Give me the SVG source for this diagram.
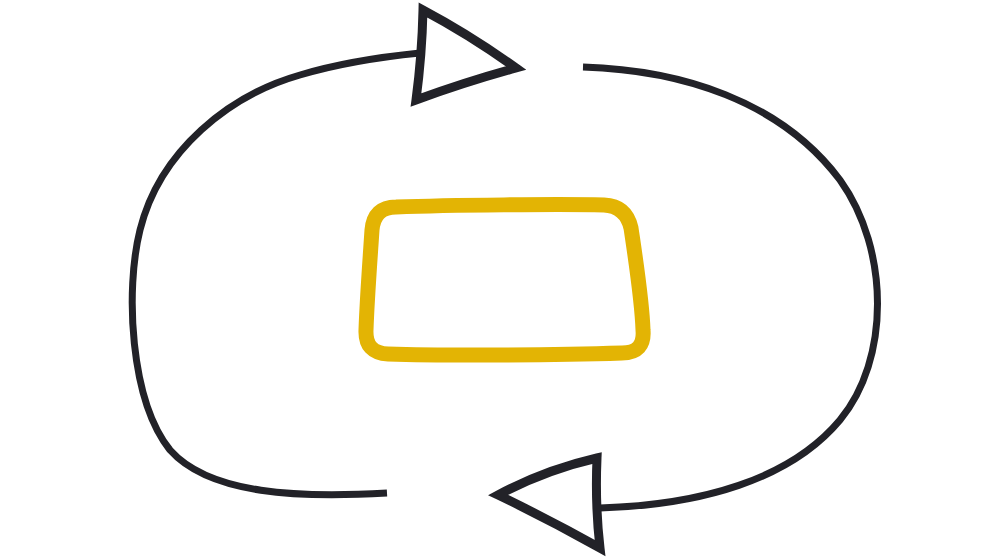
<svg xmlns="http://www.w3.org/2000/svg" width="989" height="560" viewBox="0 0 989 560">
<style>
.ln{fill:none;stroke:#222228;stroke-width:7;stroke-linecap:butt}
.hd{fill:#ffffff;stroke:#222228;stroke-width:9;stroke-linejoin:miter}
.box{fill:none;stroke:#E3B404;stroke-width:15;stroke-linejoin:round}
</style>
<rect width="989" height="560" fill="#ffffff"/>
<g id="connectors">
<path class="ln" d="M 387,493 C 300,498 210,495 170,450 C 130,400 125,290 140,230 C 160,150 230,95 300,75 C 340,63 380,57 420,53"/>
<path class="ln" d="M 583,67 C 680,70 780,100 840,180 C 890,250 890,360 840,420 C 790,480 700,505 600,508"/>
<path class="hd" d="M 423,10 Q 470,35 516,68 Q 465,82 416,100 Q 422,55 423,10 Z"/>
<path class="hd" d="M 498,495 Q 545,470 597,458 Q 595,505 600,548 Q 550,520 498,495 Z"/>
</g>
<g id="center">
<path class="box" d="M 396,207 C 450,205 560,204 604,205 Q 626,206 631,228 C 636,262 642,300 643,330 Q 645,353 622,353 C 560,355 450,356 388,354 Q 365,353 366,330 C 367,300 370,260 372,230 Q 374,207 396,207 Z"/>
</g>
</svg>
